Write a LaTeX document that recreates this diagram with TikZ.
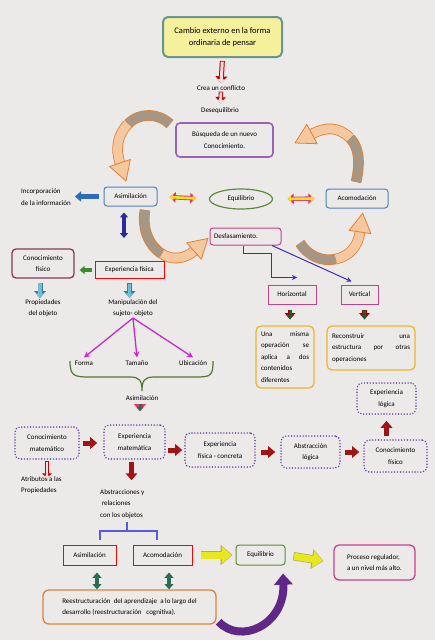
\documentclass[tikz,border=0pt]{standalone}
\usepackage{fontspec}
\setmainfont{Carlito}
\usetikzlibrary{arrows.meta, shapes.geometric}

\definecolor{bgcol}{RGB}{236,234,232}
\definecolor{teal1}{RGB}{106,150,144}
\definecolor{lemon}{RGB}{244,240,156}
\definecolor{boxblue}{RGB}{79,129,189}
\definecolor{boxpink}{RGB}{196,66,140}
\definecolor{boxviolet}{RGB}{150,100,180}
\definecolor{boxmaroon}{RGB}{130,60,90}
\definecolor{boxgold}{RGB}{240,180,50}
\definecolor{boxorange}{RGB}{225,130,60}
\definecolor{boxgreen}{RGB}{90,140,60}
\definecolor{dotviolet}{RGB}{100,60,170}
\definecolor{arrorange}{RGB}{228,128,52}
\definecolor{peach}{RGB}{246,200,160}
\definecolor{mud}{RGB}{168,150,132}
\definecolor{darkred}{RGB}{160,20,20}
\definecolor{linkviolet}{RGB}{60,45,190}
\definecolor{magentaline}{RGB}{200,40,210}
\definecolor{bracegreen}{RGB}{80,120,50}
\definecolor{bracketblue}{RGB}{90,90,225}
\definecolor{deepgreen}{RGB}{40,110,80}
\definecolor{darkgreen}{RGB}{30,90,45}
\definecolor{skyblue}{RGB}{110,190,215}
\definecolor{skyrim}{RGB}{58,126,154}
\definecolor{bigpurple}{RGB}{95,40,135}
\definecolor{arrblue}{RGB}{46,109,180}
\definecolor{navy1}{RGB}{42,42,156}
\definecolor{leaf}{RGB}{60,140,44}
\definecolor{hotpink}{RGB}{224,56,110}
\definecolor{lemonarr}{RGB}{245,224,32}
\definecolor{bigyellow}{RGB}{232,232,28}
\definecolor{yellowrim}{RGB}{184,168,104}
\definecolor{palepink}{RGB}{250,222,222}

\begin{document}
\begin{tikzpicture}[x=1pt, y=-1pt,
  every node/.style={inner sep=1pt, align=center, text=black, font=\fontsize{7}{11.5}\selectfont},
  box/.style={draw, line width=1pt, inner sep=2pt, align=center},
  rbox/.style={box, rounded corners=3pt},
  dotbox/.style={box, draw=dotviolet, line width=1.6pt, line cap=round, dash pattern=on 0pt off 2.9pt, rounded corners=5pt},
  blk/.style={-{Triangle[width=0pt 2.3, length=0pt 1.4]}},
  dblk/.style={{Triangle[width=0pt 2.3, length=0pt 1.4]}-{Triangle[width=0pt 2.3, length=0pt 1.4]}},
  cycleband/.style={draw=arrorange, line width=0.8pt, double=#1, double distance=9pt},
  arrhead/.style={fill=peach, draw=arrorange, line width=0.8pt, line join=round}]
\path[use as bounding box, fill=bgcol] (0,0) rectangle (435,640);

% cycle arrows
\draw[cycleband=mud] (170,124) .. controls (158,113) and (140,112) .. (128,124);
\draw[cycleband=peach] (128,124) .. controls (118,134) and (115,148) .. (120,163);
\filldraw[arrhead] (109.6,166.5) -- (126,181) -- (130.4,159.5) -- cycle;
\draw[cycleband=mud] (356,182) .. controls (360,165) and (360,148) .. (350,138);
\draw[cycleband=peach] (350,138) .. controls (338,126) and (325,127) .. (312,134);
\filldraw[arrhead] (317.2,143.7) -- (295,143) -- (306.8,124.3) -- cycle;
\draw[cycleband=mud] (145,210) .. controls (142,228) and (148,245) .. (162,254);
\draw[cycleband=peach] (162,254) .. controls (172,260.5) and (185,259) .. (194,251);
\filldraw[arrhead] (201.3,259.2) -- (208,238.4) -- (186.7,242.8) -- cycle;
\draw[cycleband=mud] (300,243) .. controls (308,256) and (322,262) .. (336,259);
\draw[cycleband=peach] (336,259) .. controls (350,256) and (358,246) .. (360,232);
\filldraw[arrhead] (370.9,233.6) -- (362.7,213.2) -- (349.1,230.4) -- cycle;

\node[rbox, draw=teal1, fill=lemon, line width=2pt, rounded corners=5pt, minimum width=119, minimum height=40, font=\fontsize{8.5}{12.5}\selectfont] (cambio) at (222.5,37) {Cambio externo en la forma\\ordinaria de pensar};
\node (conflicto) at (221,88) {Crea un conflicto};
\node (deseq) at (220,111) {Desequilibrio};
\node[rbox, draw=boxviolet, line width=1.6pt, rounded corners=4pt, minimum width=97, minimum height=34] (busq) at (224.5,140) {Búsqueda de un nuevo\\Conocimiento.};

\node[rbox, draw=boxblue, minimum width=53, minimum height=19] (asim) at (130.5,196.5) {Asimilación};
\node[ellipse, draw=boxgreen, line width=1.2pt, inner sep=0pt, minimum width=63, minimum height=20] (equi) at (241,199) {Equilibrio};
\node[rbox, draw=boxblue, minimum width=62, minimum height=19] (acom) at (357,198.5) {Acomodación};
\node[align=left, anchor=west] (incorp) at (20,197) {Incorporación\\de la información};
\coordinate (asimdn) at (124,239);
\node[rbox, draw=boxpink, minimum width=71, minimum height=17, text width=63, align=left] (desf) at (245.5,236.5) {Desfasamiento.};
\node[box, draw=boxpink, minimum width=48, minimum height=19] (horiz) at (292,294.5) {Horizontal};
\node[box, draw=boxpink, minimum width=37, minimum height=19] (vert) at (359.5,294.5) {Vertical};
\node[rbox, draw=boxgold, line width=1.3pt, rounded corners=5pt, minimum width=58, minimum height=62, text width=48, align=left] (misma) at (285,357) {Una\hfill misma\\operación\hfill se\\aplica\hfill a\hfill dos\\contenidos\\diferentes};
\node[rbox, draw=boxgold, line width=1.3pt, rounded corners=5pt, minimum width=88, minimum height=44, text width=78, align=left] (reconst) at (371,348) {Reconstruir\hfill una\\estructura\hfill por\hfill otras\\operaciones};

\node[rbox, draw=boxmaroon, line width=1.3pt, rounded corners=4pt, minimum width=62, minimum height=29] (confis) at (43,263.5) {Conocimiento\\físico};
\node[box, draw=red, minimum width=69, minimum height=17] (expfis) at (129.5,270) {Experiencia física};
\node (prop) at (43,308) {Propiedades\\del objeto};
\node (manip) at (133,308) {Manipulación del\\sujeto- objeto};
\node (forma) at (84,363) {Forma};
\node (tamano) at (137,363) {Tamaño};
\node (ubic) at (193,363) {Ubicación};
\node (asimtxt) at (142,398) {Asimilación};

\node[dotbox, minimum width=64, minimum height=32] (cmat) at (47,443) {Conocimiento\\matemático};
\node[dotbox, minimum width=61, minimum height=34] (emat) at (134.5,442) {Experiencia\\matemática};
\node[dotbox, minimum width=70, minimum height=34] (efc) at (220,450) {Experiencia\\física - concreta};
\node[dotbox, minimum width=59, minimum height=32] (abl) at (310.5,452) {Abstracción\\lógica};
\node[dotbox, minimum width=63, minimum height=32] (cfis) at (395.5,456) {Conocimiento\\físico};
\node[dotbox, minimum width=59, minimum height=31] (elog) at (386.5,398.5) {Experiencia\\lógica};
\node[align=left, anchor=west, inner sep=0pt] (atrib) at (21,485) {Atributos a las\\Propiedades};
\node[align=left, anchor=west] (abstr) at (99,504) {Abstracciones y\\\ relaciones\\con los objetos};

\node[box, draw=red, minimum width=53, minimum height=20] (asim2) at (89.5,555) {Asimilación};
\node[box, draw=red, minimum width=59, minimum height=20] (acom2) at (162.5,555) {Acomodación};
\node[rbox, draw=boxgreen, minimum width=49, minimum height=20] (equi2) at (260.5,555) {Equilibrio};
\node[rbox, draw=boxpink, line width=1.3pt, rounded corners=5pt, minimum width=81, minimum height=35, align=left] (proc) at (374.5,562.5) {Proceso regulador,\\a un nivel más alto.};
\node[rbox, draw=boxorange, line width=1.3pt, rounded corners=6pt, minimum width=173, minimum height=34, align=left] (reest) at (129.5,607) {Reestructuración \ del aprendizaje \ a lo largo del\\desarrollo (reestructuración \ \ cognitiva).};

% block arrows
\draw[blk, draw=red!75!black, line width=5pt, shorten <=3pt, shorten >=1pt] (cambio.south) -- (conflicto.north);
\draw[blk, draw=palepink, line width=3pt, shorten <=3.7pt, shorten >=1pt] (cambio.south) -- (conflicto.north);
\draw[blk, draw=red!75!black, line width=4.4pt, shorten >=3.5pt] (conflicto.south) -- (deseq.north);
\draw[blk, draw=palepink, line width=2.6pt, shorten <=0.7pt, shorten >=3.5pt] (conflicto.south) -- (deseq.north);
\draw[blk, draw=arrblue, line width=4.5pt, shorten <=5pt, shorten >=3pt] (asim.west) -- (incorp.east |- asim.west);
\draw[dblk, draw=hotpink, line width=4.4pt, shorten <=12pt, shorten >=12.5pt] (asim.east) -- (equi.west);
\draw[dblk, draw=lemonarr, line width=2.6pt, shorten <=12pt, shorten >=12.5pt] (asim.east) -- (equi.west);
\draw[dblk, draw=hotpink, line width=4.4pt, shorten <=14.5pt, shorten >=11pt] (equi.east) -- (acom.west);
\draw[dblk, draw=lemonarr, line width=2.6pt, shorten <=14.5pt, shorten >=11pt] (equi.east) -- (acom.west);
\draw[dblk, draw=navy1, line width=3.5pt, shorten <=6pt, shorten >=1pt] ([xshift=-6.5pt]asim.south) -- (asimdn);
\draw[blk, draw=red!60!black, line width=4.4pt, shorten <=5pt, shorten >=6pt] ([xshift=-2pt]horiz.south) -- ([xshift=-2pt]horiz.south |- misma.north);
\draw[blk, draw=darkgreen, line width=3pt, shorten <=5.7pt, shorten >=6pt] ([xshift=-2pt]horiz.south) -- ([xshift=-2pt]horiz.south |- misma.north);
\draw[blk, draw=red!60!black, line width=4.4pt, shorten <=5pt, shorten >=6pt] ([xshift=5pt]vert.south) -- ([xshift=5pt]vert.south |- reconst.north);
\draw[blk, draw=darkgreen, line width=3pt, shorten <=5.7pt, shorten >=6pt] ([xshift=5pt]vert.south) -- ([xshift=5pt]vert.south |- reconst.north);
\draw[blk, draw=leaf, line width=3.5pt, shorten <=3pt, shorten >=5pt] (expfis.west) -- (confis.east |- expfis.west);
\draw[blk, draw=skyrim, line width=5pt, shorten <=4pt] ([xshift=-3pt]confis.south) -- ([xshift=-3pt]confis.south |- prop.north);
\draw[blk, draw=skyblue, line width=3.4pt, shorten <=4.7pt] ([xshift=-3pt]confis.south) -- ([xshift=-3pt]confis.south |- prop.north);
\draw[blk, draw=skyrim, line width=5pt, shorten <=4pt] (expfis.south) -- (expfis.south |- manip.north);
\draw[blk, draw=skyblue, line width=3.4pt, shorten <=4.7pt] (expfis.south) -- (expfis.south |- manip.north);
\draw[blk, draw=hotpink, line width=5pt, shorten <=2pt, shorten >=13pt] ([xshift=-2pt]asimtxt.south) -- ([xshift=-2pt]asimtxt.south |- emat.north);
\draw[blk, draw=deepgreen, line width=3pt, shorten <=2.7pt, shorten >=13pt] ([xshift=-2pt]asimtxt.south) -- ([xshift=-2pt]asimtxt.south |- emat.north);

\draw[blk, draw=darkred, line width=5pt, shorten <=3pt, shorten >=6pt] (cmat.east) -- (emat.west |- cmat.east);
\draw[blk, draw=darkred, line width=5pt, shorten <=2pt, shorten >=2pt] (emat.east |- efc.west) -- (efc.west);
\draw[blk, draw=darkred, line width=5pt, shorten <=5pt, shorten >=5pt] (efc.east |- abl.west) -- (abl.west);
\draw[blk, draw=darkred, line width=5pt, shorten <=4pt, shorten >=4pt] (abl.east) -- (cfis.west |- abl.east);
\draw[blk, draw=darkred, line width=5pt, shorten <=3pt, shorten >=6pt] (elog.south |- cfis.north) -- (elog.south);
\draw[blk, draw=red!80!black, line width=4pt, shorten <=1pt, shorten >=-3pt] (cmat.south) -- (cmat.south |- atrib.north);
\draw[blk, draw=palepink, line width=2.4pt, shorten <=1.7pt, shorten >=-3pt] (cmat.south) -- (cmat.south |- atrib.north);
\draw[blk, draw=darkred, line width=5pt, shorten <=2pt, shorten >=8pt] ([xshift=-3pt]emat.south) -- ([xshift=-3pt]emat.south |- abstr.north);

\draw[blk, draw=yellowrim, line width=8.4pt, shorten <=8pt, shorten >=3pt] (acom2.east) -- (equi2.west);
\draw[blk, draw=bigyellow, line width=7pt, shorten <=8.7pt, shorten >=3.8pt] (acom2.east) -- (equi2.west);
\draw[blk, draw=yellowrim, line width=8.4pt, shorten <=8pt, shorten >=10pt] (equi2.east) -- (proc.west);
\draw[blk, draw=bigyellow, line width=7pt, shorten <=8.7pt, shorten >=10.8pt] (equi2.east) -- (proc.west);
\draw[dblk, draw=deepgreen, line width=3.8pt, shorten <=7pt] ([xshift=7.5pt]asim2.south) -- ([xshift=7.5pt]asim2.south |- reest.north);
\draw[dblk, draw=deepgreen, line width=3.8pt, shorten <=7pt] ([xshift=6.5pt]acom2.south) -- ([xshift=6.5pt]acom2.south |- reest.north);
\draw[blk, draw=bigpurple, line width=8pt] ([xshift=2pt,yshift=3pt]reest.south east) .. controls (240,645) and (285,625) .. ([xshift=22.5pt,yshift=-8pt]equi2.south);

% line connectors
\draw[linkviolet, line width=1pt, -{Stealth[length=5pt, width=5pt]}] ([xshift=-2.5pt]desf.south) -- ++(0,8) -- ++(28,0) -- ++(0,24) -- ++(26,0);
\draw[linkviolet, line width=1pt, -{Stealth[length=5pt, width=5pt]}] ([xshift=26.5pt]desf.south) -- ([xshift=11pt,yshift=3pt]vert.north west);
\draw[magentaline, line width=1.3pt, -{Stealth[length=6pt, width=6pt]}] (manip.south) -- ([yshift=2pt]forma.north);
\draw[magentaline, line width=1.3pt, -{Stealth[length=6pt, width=6pt]}] (manip.south) -- ([yshift=2pt]tamano.north);
\draw[magentaline, line width=1.3pt, -{Stealth[length=6pt, width=6pt]}] (manip.south) -- ([yshift=2pt]ubic.north);
\draw[bracegreen, line width=1.2pt] (70,361) .. controls (70,376) and (74,377) .. (90,377) -- (130,377) .. controls (140,377) and (142,381) .. (142,391) .. controls (142,381) and (144,377) .. (154,377) -- (195,377) .. controls (211,377) and (213,376) .. (213,361);
\draw[bracketblue, line width=1.2pt] (100,540) -- (100,531) -- (157,531) -- (157,540) (127,531) -- (127,522);
\end{tikzpicture}
\end{document}
